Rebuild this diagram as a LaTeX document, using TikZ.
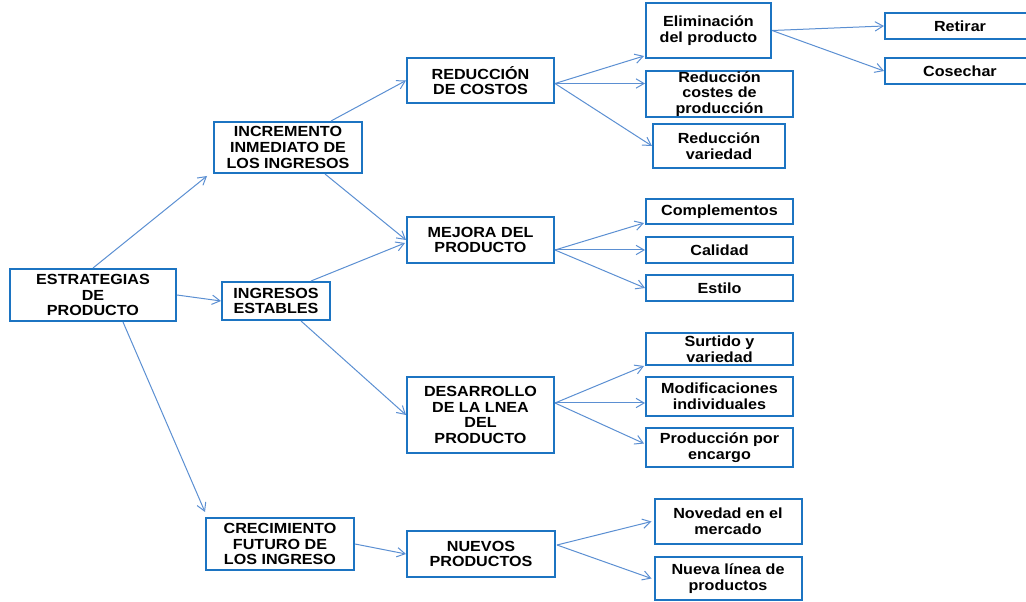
\documentclass[tikz,border=0pt]{standalone}
\usepackage{fontspec}
\setmainfont{Liberation Sans}[FakeStretch=1.1]
\usetikzlibrary{arrows.meta, calc}
\definecolor{boxblue}{HTML}{1C74C2}
\definecolor{linkblue}{HTML}{5B8FD2}
\tikzset{
  box/.style={
    rectangle, draw=boxblue, fill=white, line width=1.5pt,
    align=center, inner sep=0pt,
    font=\bfseries\fontsize{11}{11.7}\selectfont
  },
  wh/.style 2 args={minimum width=#1*0.75pt, minimum height=#2*0.75pt},
  arrow/.style={-{Straight Barb[length=6pt,width=7pt]}, line width=0.75pt, draw=linkblue},
}

\begin{document}
\begin{tikzpicture}[x=0.75pt, y=-0.75pt]
  \useasboundingbox (0,0) rectangle (1026,602);

  % level 1 and 2
  \node[box, wh={166}{52}] (estr) at (93,295) {ESTRATEGIAS\\DE\\PRODUCTO};
  \node[box, wh={148}{51}] (incr) at (288,147.5) {INCREMENTO\\INMEDIATO DE\\LOS INGRESOS};
  \node[box, wh={108}{38}] (ingr) at (276,301) {INGRESOS\\ESTABLES};
  \node[box, wh={148}{52}] (crec) at (280,544) {CRECIMIENTO\\FUTURO DE\\LOS INGRESO};

  % level 3
  \node[box, wh={147}{45}] (red) at (480.5,80.5) {REDUCCIÓN\\DE COSTOS};
  \node[box, wh={147}{46}] (mej) at (480.5,240) {MEJORA DEL\\PRODUCTO};
  \node[box, wh={147}{76}] (des) at (480.5,415) {DESARROLLO\\DE LA LNEA\\DEL\\PRODUCTO};
  \node[box, wh={148}{46}] (nuev) at (481,554) {NUEVOS\\PRODUCTOS};

  % level 4
  \node[box, wh={125}{55}] (elim) at (708.5,30.5) {Eliminación\\del producto};
  \node[box, wh={147}{46}] (rcost) at (719.5,94) {Reducción\\costes de\\producción};
  \node[box, wh={132}{44}] (rvar) at (719,146) {Reducción\\variedad};
  \node[box, wh={147}{25}] (comp) at (719.5,211.5) {Complementos};
  \node[box, wh={147}{26}] (cal) at (719.5,250) {Calidad};
  \node[box, wh={147}{26}] (est) at (719.5,288) {Estilo};
  \node[box, wh={147}{32}] (surt) at (719.5,349) {Surtido y\\variedad};
  \node[box, wh={147}{39}] (mod) at (719.5,396.5) {Modificaciones\\individuales};
  \node[box, wh={147}{39}] (prod) at (719.5,447.5) {Producción por\\encargo};
  \node[box, wh={147}{45}] (nov) at (728,521.5) {Novedad en el\\mercado};
  \node[box, wh={147}{43}] (nueva) at (728,578.5) {Nueva línea de\\productos};

  % level 5
  \node[box, wh={150}{26}] (ret) at (960,26) {Retirar};
  \node[box, wh={150}{26}] (cos) at (960,71) {Cosechar};

  % branching points
  \coordinate (redout) at ($(red.east)+(0,3)$);
  \coordinate (mejout) at ($(mej.east)+(0,10)$);
  \coordinate (desout) at ($(des.east)+(0,-12)$);
  \coordinate (nuevout) at ($(nuev.east)+(1,-9)$);

  \draw[arrow] (estr.north) -- ($(incr.south west)+(-6,2)$);
  \draw[arrow] (estr.east) -- (ingr.west);
  \draw[arrow] ($(estr.south)+(30,0)$) -- ($(crec.north west)+(0,-5)$);
  \draw[arrow] ($(incr.north east)+(-32,0)$) -- (red.west);
  \draw[arrow] ($(incr.south)+(37,0)$) -- (mej.west);
  \draw[arrow] ($(ingr.north east)+(-20,0)$) -- ($(mej.west)+(-1,3)$);
  \draw[arrow] ($(ingr.south east)+(-30,0)$) -- (des.west);
  \draw[arrow] (crec.east) -- (nuev.west);

  \draw[arrow] (redout) -- ($(elim.south west)+(-1,-3)$);
  \draw[arrow] (redout) -- (redout -| rcost.west);
  \draw[arrow] (redout) -- (rvar.west);
  \draw[arrow] (elim.east) -- (ret.west);
  \draw[arrow] (elim.east) -- (cos.west);

  \draw[arrow] (mejout) -- ($(comp.south west)+(-1,-2)$);
  \draw[arrow] (mejout) -- (mejout -| cal.west);
  \draw[arrow] (mejout) -- (est.west);

  \draw[arrow] (desout) -- ($(surt.south west)+(-1,0)$);
  \draw[arrow] (desout) -- (desout -| mod.west);
  \draw[arrow] (desout) -- ($(prod.west)+(-1,-4)$);

  \draw[arrow] (nuevout) -- ($(nov.west)+(-2,0)$);
  \draw[arrow] (nuevout) -- ($(nueva.west)+(-2,0)$);
\end{tikzpicture}
\end{document}
